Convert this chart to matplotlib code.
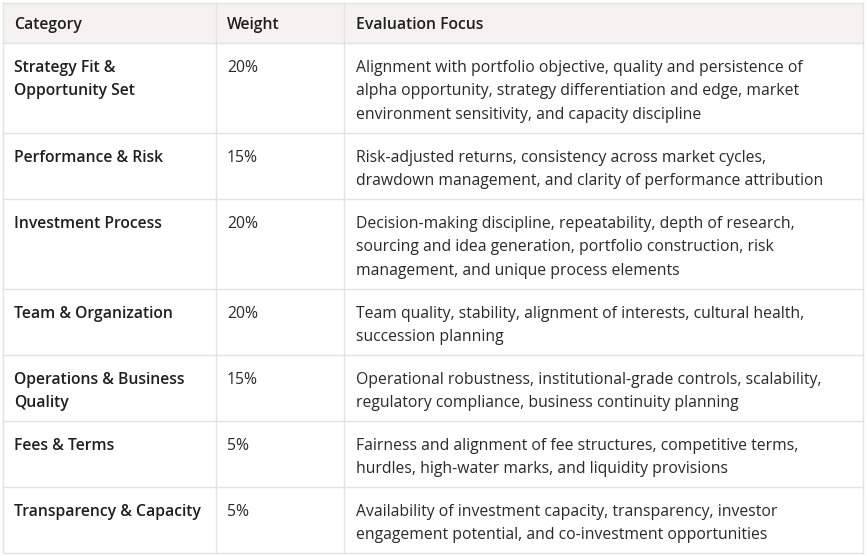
import matplotlib
matplotlib.use("Agg")
import matplotlib.pyplot as plt
from matplotlib.patches import Rectangle

headers = ["Category", "Weight", "Evaluation Focus"]
categories = [
    "Strategy Fit &\nOpportunity Set",
    "Performance & Risk",
    "Investment Process",
    "Team & Organization",
    "Operations & Business\nQuality",
    "Fees & Terms",
    "Transparency & Capacity",
]
weights = ["20%", "15%", "20%", "20%", "15%", "5%", "5%"]
focus = [
    "Alignment with portfolio objective, quality and persistence of\nalpha opportunity, strategy differentiation and edge, market\nenvironment sensitivity, and capacity discipline",
    "Risk-adjusted returns, consistency across market cycles,\ndrawdown management, and clarity of performance attribution",
    "Decision-making discipline, repeatability, depth of research,\nsourcing and idea generation, portfolio construction, risk\nmanagement, and unique process elements",
    "Team quality, stability, alignment of interests, cultural health,\nsuccession planning",
    "Operational robustness, institutional-grade controls, scalability,\nregulatory compliance, business continuity planning",
    "Fairness and alignment of fee structures, competitive terms,\nhurdles, high-water marks, and liquidity provisions",
    "Availability of investment capacity, transparency, investor\nengagement potential, and co-investment opportunities",
]

W, H = 867, 556
left, right, top = 3, 862.5, 3
col_x = [left, 215.5, 344, right]
line_h = 24
pad = 18
header_h = 40
grid = "#e3e3e3"
text_c = "#1f1f1f"
font = "Open Sans"
fs = 11.3
ls = 1.65

fig = plt.figure(figsize=(W / 100, H / 100), dpi=100)
ax = fig.add_axes([0, 0, 1, 1])
ax.set_xlim(0, W)
ax.set_ylim(H, 0)
ax.axis("off")

# header
ax.add_patch(Rectangle((left, top), right - left, header_h, facecolor="#f5f3f0", edgecolor="none"))
for i, h in enumerate(headers):
    ax.text(col_x[i] + 11.5, top + header_h / 2 + 2, h, fontsize=fs, family=font, color=text_c,
            fontweight=600, va="center", ha="left")

y = top + header_h
row_lines = [top, y]
for cat, wt, desc in zip(categories, weights, focus):
    n = max(cat.count("\n"), desc.count("\n")) + 1
    h = pad + line_h * n
    ty = y + 16.5
    ax.text(col_x[0] + 11.5, ty, cat, fontsize=fs, family=font, color=text_c, fontweight=600,
            va="top", ha="left", linespacing=ls)
    ax.text(col_x[1] + 11.5, ty, wt, fontsize=fs, family=font, color="#2a2a2a",
            va="top", ha="left")
    ax.text(col_x[2] + 12, ty, desc, fontsize=fs, family=font, color="#2a2a2a",
            va="top", ha="left", linespacing=ls)
    y += h
    row_lines.append(y)

for ry in row_lines:
    ax.plot([left, right], [ry, ry], color=grid, lw=1)
for cx in col_x:
    ax.plot([cx, cx], [top, row_lines[-1]], color=grid, lw=1)

fig.savefig("out.png", dpi=100, facecolor="white")
